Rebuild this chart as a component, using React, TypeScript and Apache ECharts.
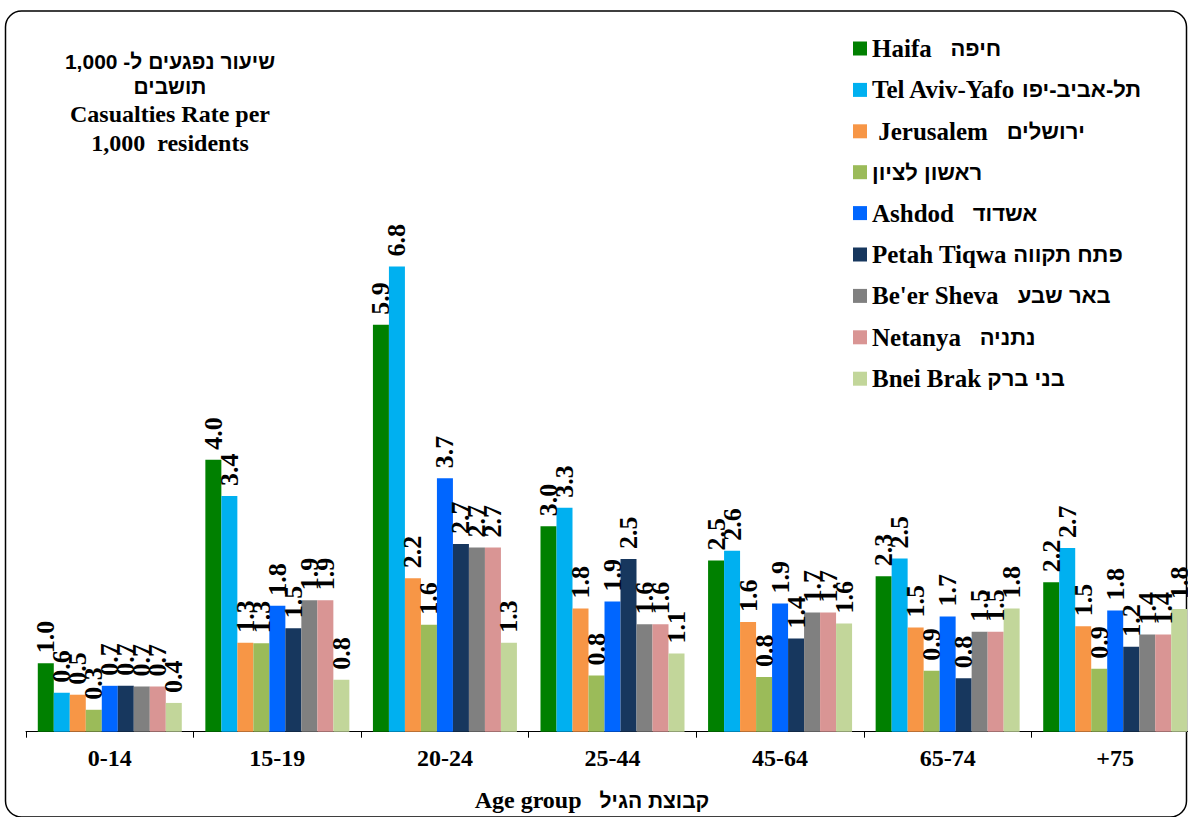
import React, { useEffect, useRef } from "react";
import * as echarts from "echarts";

const categories = ["0-14", "15-19", "20-24", "25-44", "45-64", "65-74", "+75"];

const seriesNames = [
  "Haifa\u00A0\u00A0\u00A0חיפה",
  "Tel Aviv-Yafo\u00A0תל-אביב-יפו",
  "\u00A0Jerusalem\u00A0\u00A0\u00A0ירושלים",
  "ראשון לציון",
  "Ashdod\u00A0\u00A0\u00A0אשדוד",
  "Petah Tiqwa פתח תקווה",
  "Be'er Sheva\u00A0\u00A0\u00A0באר שבע",
  "Netanya\u00A0\u00A0\u00A0נתניה",
  "Bnei Brak בני ברק",
];

const haifa = [1.0, 3.97, 5.94, 3.0, 2.5, 2.27, 2.18];
const telAviv = [0.57, 3.44, 6.79, 3.27, 2.64, 2.53, 2.68];
const jerusalem = [0.54, 1.3, 2.24, 1.8, 1.6, 1.52, 1.54];
const rishon = [0.32, 1.29, 1.56, 0.82, 0.8, 0.89, 0.92];
const ashdod = [0.67, 1.84, 3.7, 1.9, 1.87, 1.68, 1.77];
const petahTiqwa = [0.67, 1.51, 2.74, 2.52, 1.36, 0.78, 1.24];
const beerSheva = [0.66, 1.92, 2.69, 1.57, 1.74, 1.46, 1.42];
const netanya = [0.66, 1.92, 2.69, 1.57, 1.74, 1.46, 1.42];
const bneiBrak = [0.42, 0.76, 1.3, 1.14, 1.58, 1.8, 1.79];

const seriesValues = [haifa, telAviv, jerusalem, rishon, ashdod, petahTiqwa, beerSheva, netanya, bneiBrak];

const colors = ["#008000", "#00B0F0", "#F79646", "#9BBB59", "#0066FF", "#17375E", "#808080", "#D99594", "#C2D69A"];

const titleLines = ["שיעור נפגעים ל- 1,000", "תושבים", "Casualties Rate per", "1,000  residents"];
const xAxisTitle = "Age group\u00A0\u00A0\u00A0קבוצת הגיל";

const FONT = "'Liberation Serif', 'Times New Roman', serif";
const HEB_FONT = "'Liberation Sans', 'DejaVu Sans', sans-serif";

const richText = (s: string) => {
  const idx = s.search(/[\u0590-\u05FF]/);
  if (idx < 0) return `{l|${s}}`;
  const lat = s.slice(0, idx);
  const heb = s.slice(idx);
  return (lat ? `{l|${lat}}` : "") + `{h|${heb}}`;
};

export default function App() {
  const ref = useRef<HTMLDivElement>(null);
  useEffect(() => {
    if (!ref.current) return;
    const chart = echarts.init(ref.current, undefined, { renderer: "svg" });
    const titleY = [61, 86, 114, 143];
    const titleFonts = [
      `bold 21px ${HEB_FONT}`,
      `bold 21px ${HEB_FONT}`,
      `bold 24px ${FONT}`,
      `bold 24px ${FONT}`,
    ];
    const rich = {
      l: { fontFamily: FONT, fontWeight: "bold", fontSize: 25, color: "#000", lineHeight: 24 },
      h: { fontFamily: HEB_FONT, fontWeight: "bold", fontSize: 22, color: "#000", lineHeight: 24 },
    };
    chart.setOption({
      animation: false,
      backgroundColor: "#fff",
      color: colors,
      grid: { left: 26, right: 1, top: 46.7, height: 685, containLabel: false },
      legend: {
        orient: "vertical",
        left: 853,
        top: 36,
        padding: 0,
        itemWidth: 14,
        itemHeight: 14,
        itemGap: 16.4,
        icon: "rect",
        formatter: (name: string) => richText(name),
        textStyle: { fontFamily: FONT, fontWeight: "bold", fontSize: 25, color: "#000", lineHeight: 24, rich },
        data: seriesNames,
      },
      xAxis: {
        type: "category",
        data: categories,
        axisLine: { lineStyle: { color: "#000", width: 1 } },
        axisTick: { show: true, length: 6, lineStyle: { color: "#000" } },
        axisLabel: { color: "#000", fontFamily: FONT, fontWeight: "bold", fontSize: 24, margin: 14 },
      },
      yAxis: {
        type: "value",
        min: 0,
        max: 10,
        show: false,
        splitLine: { show: false },
      },
      series: seriesNames.map((name, i) => ({
        name,
        type: "bar",
        data: seriesValues[i],
        barWidth: 16,
        barGap: "0%",
        itemStyle: { color: colors[i] },
        label: {
          show: true,
          position: "top",
          rotate: 90,
          align: "left",
          verticalAlign: "middle",
          distance: 10,
          color: "#000",
          fontFamily: FONT,
          fontWeight: "bold",
          fontSize: 26,
          formatter: (p: any) => Number(p.value).toFixed(1),
        },
      })),
      graphic: [
        {
          type: "rect",
          z: -10,
          shape: { x: 5.5, y: 11, width: 1181, height: 806, r: 16 },
          style: { fill: "none", stroke: "#000", lineWidth: 1.5 },
        },
        ...titleLines.map((t, i) => ({
          type: "text",
          x: 170,
          y: titleY[i],
          style: {
            text: t,
            fill: "#000",
            font: titleFonts[i],
            textAlign: "center",
            textVerticalAlign: "middle",
          },
        })),
        {
          type: "text",
          x: 592,
          y: 800,
          style: {
            text: richText(xAxisTitle),
            fill: "#000",
            font: `bold 24px ${FONT}`,
            textAlign: "center",
            textVerticalAlign: "middle",
            rich: {
              l: { fontFamily: FONT, fontWeight: "bold", fontSize: 24, fill: "#000" },
              h: { fontFamily: HEB_FONT, fontWeight: "bold", fontSize: 21, fill: "#000" },
            },
          },
        },
      ],
    });
    return () => chart.dispose();
  }, []);
  return (
    <div style={{ position: "fixed", left: 0, top: 0, width: 1188, height: 817, overflow: "hidden" }}>
      <div ref={ref} style={{ width: 1200, height: 817 }} />
    </div>
  );
}
